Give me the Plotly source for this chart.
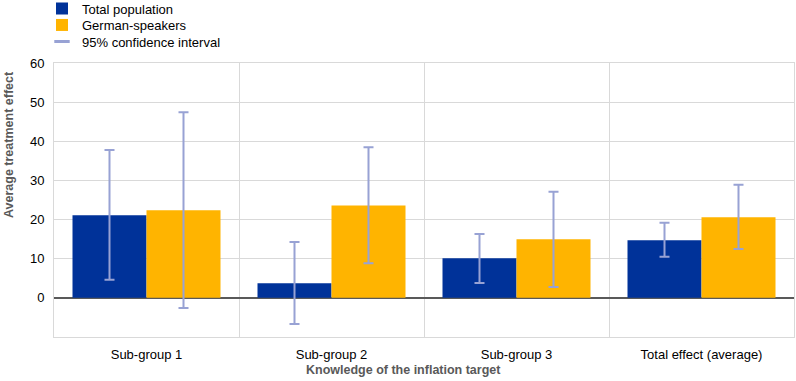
import plotly.graph_objects as go

categories = ["Sub-group 1", "Sub-group 2", "Sub-group 3", "Total effect (average)"]
total_pop = [21.1, 3.75, 10.1, 14.7]
total_lo = [4.6, -6.7, 3.8, 10.5]
total_hi = [37.8, 14.3, 16.3, 19.2]
german = [22.4, 23.6, 15.0, 20.6]
german_lo = [-2.6, 8.85, 2.8, 12.5]
german_hi = [47.4, 38.5, 27.1, 28.9]

BLUE = "#003299"
YELLOW = "#FFB400"
ERR = "#98A2D4"
FONT = "Liberation Sans, Arial, sans-serif"

W, H = 796, 381
ML, MR, MT, MB = 54, 2, 63, 44
PW = W - ML - MR
PH = H - MT - MB


def err(vals, lo, hi):
    return dict(type="data", symmetric=False,
                array=[h - v for v, h in zip(vals, hi)],
                arrayminus=[v - l for v, l in zip(vals, lo)],
                color=ERR, thickness=2, width=5)


fig = go.Figure()
fig.add_trace(go.Bar(x=categories, y=total_pop, name="Total population",
                     marker=dict(color=BLUE, line=dict(width=0)),
                     error_y=err(total_pop, total_lo, total_hi), legend="legend"))
fig.add_trace(go.Bar(x=categories, y=german, name="German-speakers",
                     marker=dict(color=YELLOW, line=dict(width=0)),
                     error_y=err(german, german_lo, german_hi), legend="legend2"))
fig.add_trace(go.Scatter(x=[None], y=[None], mode="markers", name="95% confidence interval",
                         marker=dict(symbol="line-ew", size=11, color=ERR,
                                     line=dict(color=ERR, width=3)),
                         legend="legend3"))


def leg(ypx):
    return dict(x=(42 - ML) / PW, y=1 - ypx / H, xref="paper", yref="container",
                xanchor="left", yanchor="middle",
                font=dict(size=13, color="#000000", family=FONT),
                bgcolor="rgba(0,0,0,0)", itemwidth=30, borderwidth=0)


fig.update_layout(
    width=W, height=H,
    margin=dict(l=ML, r=MR, t=MT, b=MB, autoexpand=False),
    paper_bgcolor="white", plot_bgcolor="white",
    font=dict(family=FONT, size=13, color="#000000"),
    barmode="group", bargap=0.2, bargroupgap=0,
    showlegend=True,
    legend=leg(8.5), legend2=leg(25), legend3=leg(41.5),
    xaxis=dict(
        type="category", tickson="boundaries", showgrid=True, gridcolor="#D9D9D9", gridwidth=1,
        ticks="", showline=True, linecolor="#D9D9D9", mirror=True, automargin=False,
        tickfont=dict(size=13, color="#000000"), ticklabelstandoff=5,
    ),
    yaxis=dict(
        range=[-10, 60], tickvals=[0, 10, 20, 30, 40, 50, 60],
        showgrid=True, gridcolor="#D9D9D9", gridwidth=1,
        zeroline=True, zerolinecolor="#595959", zerolinewidth=2,
        showline=True, linecolor="#D9D9D9", mirror=True, ticks="", automargin=False,
        tickfont=dict(size=13, color="#000000"), ticklabelstandoff=6,
    ),
    annotations=[
        dict(text="<b>Knowledge of the inflation target</b>", xref="paper", yref="paper",
             x=(403 - ML) / PW, y=-(370 - MT - PH) / PH, xanchor="center", yanchor="middle",
             showarrow=False, font=dict(size=12.5, color="#595959", family=FONT)),
        dict(text="<b>Average treatment effect</b>", xref="paper", yref="paper",
             x=(9 - ML) / PW, y=(MT + PH - 145) / PH, xanchor="center", yanchor="middle",
             textangle=-90, showarrow=False, font=dict(size=12.5, color="#595959", family=FONT)),
    ],
)

fig.write_html("out.html", config={"displayModeBar": False},
               post_script="document.body.style.margin='0';document.body.style.padding='0';")
